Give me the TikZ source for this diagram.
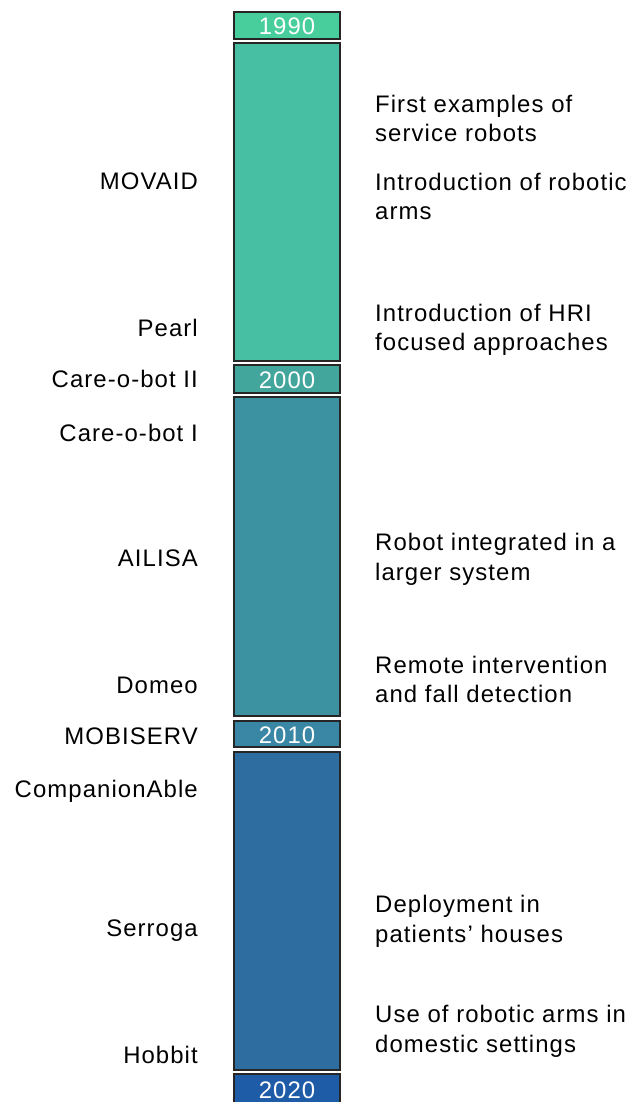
\documentclass[tikz,border=0pt]{standalone}
\usepackage{fontspec}
\setmainfont{Liberation Sans}[LetterSpace=4.5]
\begin{document}
\begin{tikzpicture}[x=1bp,y=-1bp,
  period/.style={draw=black!85,line width=1.4bp,fill=#1},
  yeartext/.style={text=white,font=\fontsize{24}{24}\selectfont,inner sep=0pt},
  lab/.style={anchor=base east,font=\fontsize{24}{24}\selectfont,inner sep=0pt},
  desc/.style={anchor=base west,font=\fontsize{24}{24}\selectfont,inner sep=0pt,align=left},
]
\useasboundingbox (0,0) rectangle (637,1102);
\definecolor{c90}{HTML}{48CE9D}
\definecolor{p1}{HTML}{47BFA2}
\definecolor{c00}{HTML}{43A69D}
\definecolor{p2}{HTML}{3D92A1}
\definecolor{c10}{HTML}{3A86A5}
\definecolor{p3}{HTML}{2D6DA0}
\definecolor{c20}{HTML}{1F5CA8}
% boxes
\draw[period=c90] (234,12) rectangle (340,39);
\node[yeartext,anchor=base] (y90) at (287,34) {1990};
\draw[period=p1] (234,43) rectangle (340,361);
\coordinate (b1) at (287,202);
\draw[period=c00] (234,365) rectangle (340,393);
\node[yeartext,anchor=base] (y00) at (287,388) {2000};
\draw[period=p2] (234,397) rectangle (340,716);
\coordinate (b2) at (287,556);
\draw[period=c10] (234,721) rectangle (340,747);
\node[yeartext,anchor=base] (y10) at (287,743) {2010};
\draw[period=p3] (234,752) rectangle (340,1070);
\coordinate (b3) at (287,911);
\draw[period=c20] (234,1074) rectangle (340,1104);
\node[yeartext,anchor=base] (y20) at (287,1098) {2020};
% left labels
\node[lab] (movaid) at (198,189) {MOVAID};
\node[lab] (pearl) at (198,336) {Pearl};
\node[lab] (cob2) at (198,387) {Care-o-bot II};
\node[lab] (cob1) at (198,441) {Care-o-bot I};
\node[lab] (ailisa) at (198,566) {AILISA};
\node[lab] (domeo) at (198,693) {Domeo};
\node[lab] (mobiserv) at (198,744) {MOBISERV};
\node[lab] (comp) at (198,797) {CompanionAble};
\node[lab] (serroga) at (198,936) {Serroga};
\node[lab] (hobbit) at (198,1063) {Hobbit};
% right descriptions
\node[desc] (d1a) at (375,112) {First examples of};
\node[desc] (d1b) at (375,141) {service robots};
\node[desc] (d2a) at (375,190) {Introduction of robotic};
\node[desc] (d2b) at (375,219) {arms};
\node[desc] (d3a) at (375,321) {Introduction of HRI};
\node[desc] (d3b) at (375,350) {focused approaches};
\node[desc] (d4a) at (375,550) {Robot integrated in a};
\node[desc] (d4b) at (375,580) {larger system};
\node[desc] (d5a) at (375,673) {Remote intervention};
\node[desc] (d5b) at (375,702) {and fall detection};
\node[desc] (d6a) at (375,912) {Deployment in};
\node[desc] (d6b) at (375,942) {patients’ houses};
\node[desc] (d7a) at (375,1022) {Use of robotic arms in};
\node[desc] (d7b) at (375,1052) {domestic settings};
\end{tikzpicture}
\end{document}
